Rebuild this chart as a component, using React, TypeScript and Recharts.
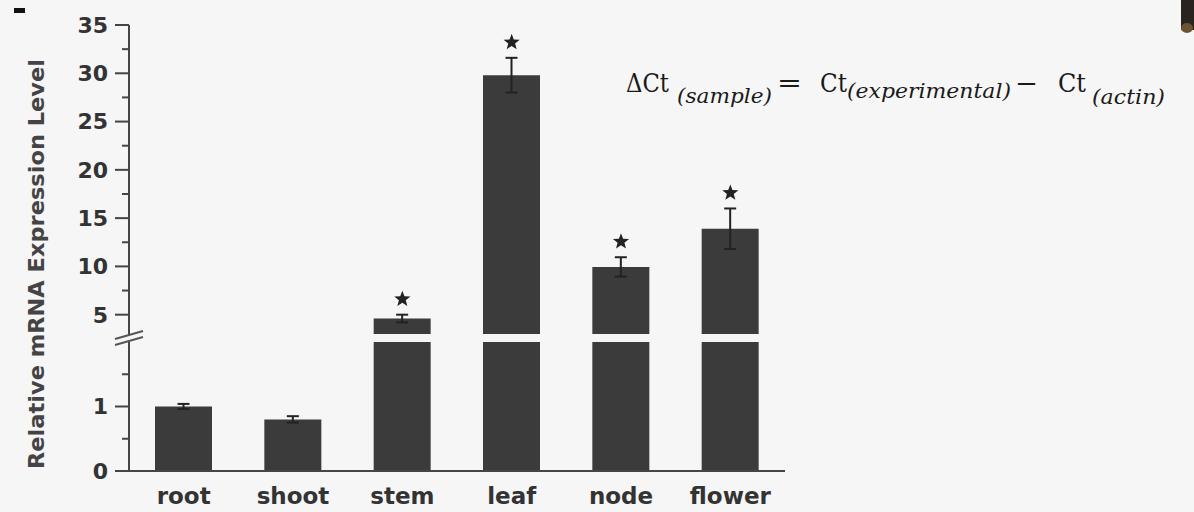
import React from 'react';
import { ComposedChart, Bar, Line, XAxis, YAxis, ErrorBar } from 'recharts';

// ---- data ----
const categories = ['root', 'shoot', 'stem', 'leaf', 'node', 'flower'];
const means = [1.0, 0.8, 4.6, 29.8, 9.95, 13.9];
const errors = [0.04, 0.05, 0.4, 1.8, 1.0, 2.1];
const significant = [false, false, true, true, true, true];

const upperTicks = [5, 7.5, 10, 12.5, 15, 17.5, 20, 22.5, 25, 27.5, 30, 32.5, 35];
const upperMajor = [5, 10, 15, 20, 25, 30, 35];
const lowerTicks = [0, 0.5, 1, 1.5];
const lowerMajor = [0, 1];

const LOWER_MAX = 2;
const UPPER_MIN = 3;
const UPPER_MAX = 35;

const upperData = categories.map((name, i) => ({
  name,
  value: means[i] > UPPER_MIN ? means[i] : null,
  err: means[i] > UPPER_MIN ? errors[i] : null,
  starTop: significant[i] ? means[i] + errors[i] : null,
}));

const lowerData = categories.map((name, i) => ({
  name,
  value: Math.min(means[i], LOWER_MAX),
  err: means[i] <= LOWER_MAX ? errors[i] : null,
}));

// ---- styles ----
const W = 1194;
const H = 512;
const BG = '#f6f6f6';
const BAR = '#3b3b3b';
const AXIS = '#454545';
const TEXT = '#333333';
const FONT = '"DejaVu Sans", sans-serif';
const RIGHT = 409;
const AXIS_W = 129;

const makeTick = (majors: number[]) => (props: any) => {
  const { x, y, payload } = props;
  const major = majors.includes(payload.value);
  return (
    <g>
      <line x1={x - (major ? 14 : 7)} x2={x} y1={y} y2={y} stroke={AXIS} strokeWidth={2} />
      {major && (
        <text
          x={x - 21}
          y={y}
          dy="0.36em"
          textAnchor="end"
          fontFamily={FONT}
          fontWeight="bold"
          fontSize={22}
          fill={TEXT}
        >
          {payload.value}
        </text>
      )}
    </g>
  );
};

const Star = (props: any) => {
  const { cx, cy, payload, index } = props;
  if (cy == null || isNaN(cy) || payload == null || payload.starTop == null) {
    return <g key={`s-${index}`} />;
  }
  const c = { x: cx, y: cy - 15.5 };
  const pts: string[] = [];
  for (let k = 0; k < 10; k++) {
    const r = k % 2 === 0 ? 8.5 : 3.6;
    const a = -Math.PI / 2 + (k * Math.PI) / 5;
    pts.push(`${c.x + r * Math.cos(a)},${c.y + r * Math.sin(a)}`);
  }
  return <polygon key={`s-${index}`} points={pts.join(' ')} fill="#222" />;
};

const eqStyle = { fontFamily: '"DejaVu Serif", serif', fill: '#1a1a1a' } as const;

export default function App() {
  return (
    <div style={{ position: 'relative', width: W, height: H, background: BG, overflow: 'hidden' }}>
      <style>{`body{margin:0;}`}</style>

      {/* lower segment */}
      <div style={{ position: 'absolute', left: 0, top: 0 }}>
        <ComposedChart
          width={W}
          height={H}
          data={lowerData}
          margin={{ top: 342, right: RIGHT, bottom: 0, left: 0 }}
          barSize={57}
        >
          <XAxis
            dataKey="name"
            height={41}
            axisLine={{ stroke: AXIS, strokeWidth: 2 }}
            tickLine={false}
            tickSize={0}
            tickMargin={17}
            tick={{ fontFamily: FONT, fontWeight: 'bold', fontSize: 23, fill: TEXT }}
            interval={0}
          />
          <YAxis
            width={AXIS_W}
            domain={[0, LOWER_MAX]}
            ticks={lowerTicks}
            allowDataOverflow
            axisLine={{ stroke: AXIS, strokeWidth: 2 }}
            tickLine={false}
            tickSize={0}
            tickMargin={0}
            tick={makeTick(lowerMajor)}
            interval={0}
          />
          <Bar dataKey="value" fill={BAR} isAnimationActive={false}>
            <ErrorBar dataKey="err" width={6} stroke="#222" strokeWidth={2} isAnimationActive={false} />
          </Bar>
        </ComposedChart>
      </div>

      {/* upper segment */}
      <div style={{ position: 'absolute', left: 0, top: 0 }}>
        <ComposedChart
          width={W}
          height={340}
          data={upperData}
          margin={{ top: 25, right: RIGHT, bottom: 6, left: 0 }}
          barSize={57}
        >
          <XAxis dataKey="name" hide />
          <YAxis
            width={AXIS_W}
            domain={[UPPER_MIN, UPPER_MAX]}
            ticks={upperTicks}
            allowDataOverflow
            axisLine={{ stroke: AXIS, strokeWidth: 2 }}
            tickLine={false}
            tickSize={0}
            tickMargin={0}
            tick={makeTick(upperMajor)}
            interval={0}
          />
          <Bar dataKey="value" fill={BAR} isAnimationActive={false}>
            <ErrorBar dataKey="err" width={6} stroke="#222" strokeWidth={2} isAnimationActive={false} />
          </Bar>
          <Line
            dataKey="starTop"
            stroke="none"
            dot={Star}
            activeDot={false}
            isAnimationActive={false}
            legendType="none"
          />
        </ComposedChart>
      </div>

      {/* overlay: axis break, y label, equation, decorations */}
      <svg width={W} height={H} style={{ position: 'absolute', left: 0, top: 0, pointerEvents: 'none' }}>
        <line x1={129} x2={129} y1={333} y2={343} stroke={AXIS} strokeWidth={2} />
        <polygon points="115,339 143,331 143,337 115,345" fill={BG} />
        <line x1={115} y1={339} x2={143} y2={331} stroke="#555" strokeWidth={2} />
        <line x1={115} y1={345} x2={143} y2={337} stroke="#555" strokeWidth={2} />

        <text
          transform="translate(44,264) rotate(-90)"
          textAnchor="middle"
          fontFamily={FONT}
          fontWeight="bold"
          fontSize={22}
          fill="#444"
          textLength={410}
          lengthAdjust="spacingAndGlyphs"
        >
          Relative mRNA Expression Level
        </text>

        <text x={626} y={92} fontSize={26} {...eqStyle} textLength={43} lengthAdjust="spacingAndGlyphs">ΔCt</text>
        <text x={677} y={103} fontSize={20} fontStyle="italic" {...eqStyle} textLength={95} lengthAdjust="spacingAndGlyphs">(sample)</text>
        <text x={777} y={92} fontSize={26} {...eqStyle} textLength={25} lengthAdjust="spacingAndGlyphs">=</text>
        <text x={820} y={92} fontSize={26} {...eqStyle} textLength={27} lengthAdjust="spacingAndGlyphs">Ct</text>
        <text x={847} y={98} fontSize={20} fontStyle="italic" {...eqStyle} textLength={164} lengthAdjust="spacingAndGlyphs">(experimental)</text>
        <text x={1015} y={92} fontSize={26} {...eqStyle} textLength={23} lengthAdjust="spacingAndGlyphs">−</text>
        <text x={1058} y={92} fontSize={26} {...eqStyle} textLength={28} lengthAdjust="spacingAndGlyphs">Ct</text>
        <text x={1092} y={104} fontSize={20} fontStyle="italic" {...eqStyle} textLength={73} lengthAdjust="spacingAndGlyphs">(actin)</text>

        <rect x={14} y={8} width={11} height={5} fill="#111" />
        <rect x={1181} y={0} width={13} height={30} fill="#2a2420" />
        <ellipse cx={1187} cy={28} rx={6} ry={5} fill="#6b5330" />
      </svg>
    </div>
  );
}
